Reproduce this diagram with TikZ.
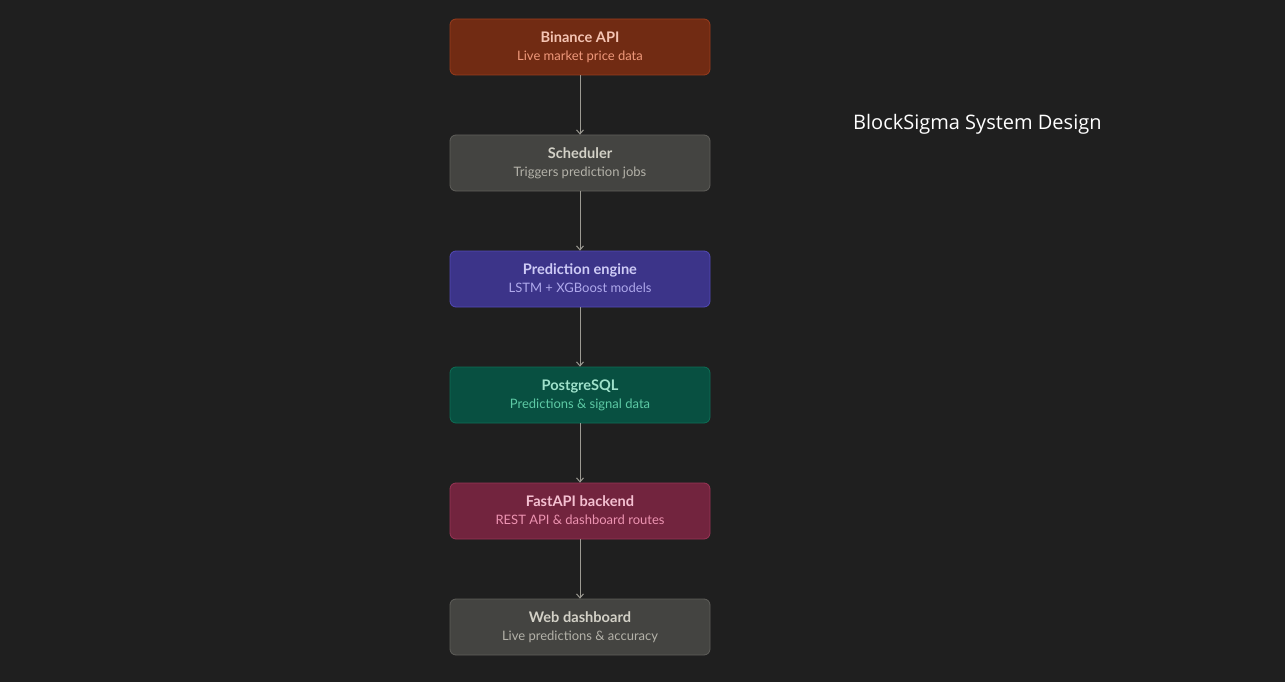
\documentclass[tikz,border=0pt]{standalone}
\usepackage{fontspec}
\setmainfont{Lato}
\newfontfamily\titlefont{Open Sans}
\usetikzlibrary{arrows.meta}
\definecolor{bg}{HTML}{1F1F1F}
\definecolor{arr}{HTML}{9C9A92}
\definecolor{coF}{HTML}{712B13}\definecolor{coD}{HTML}{993C1D}\definecolor{coT}{HTML}{F5C4B3}\definecolor{coS}{HTML}{F0997B}
\definecolor{grF}{HTML}{444441}\definecolor{grD}{HTML}{5F5E5A}\definecolor{grT}{HTML}{D3D1C7}\definecolor{grS}{HTML}{B4B2A9}
\definecolor{puF}{HTML}{3C3489}\definecolor{puD}{HTML}{534AB7}\definecolor{puT}{HTML}{CECBF6}\definecolor{puS}{HTML}{AFA9EC}
\definecolor{teF}{HTML}{085041}\definecolor{teD}{HTML}{0F6E56}\definecolor{teT}{HTML}{9FE1CB}\definecolor{teS}{HTML}{5DCAA5}
\definecolor{piF}{HTML}{72243E}\definecolor{piD}{HTML}{993556}\definecolor{piT}{HTML}{F4C0D1}\definecolor{piS}{HTML}{ED93B1}
\tikzset{
  box/.style={draw=#1D, fill=#1F, line width=0.8pt, rounded corners=6pt, minimum width=260pt, minimum height=56pt, inner sep=0pt},
  ttl/.style={text=#1T, font=\fontsize{14.6}{16}\selectfont\bfseries, inner sep=0pt, anchor=base},
  sub/.style={text=#1S, font=\fontsize{13}{14}\selectfont, inner sep=0pt, anchor=base},
  flow/.style={draw=arr, line width=1pt, -{Straight Barb[length=4pt,width=7pt]}}
}
\begin{document}
\begin{tikzpicture}[x=1pt,y=-1pt]
\fill[bg] (0,0) rectangle (1285,682);
\useasboundingbox (0,0) rectangle (1285,682);
\node[box=co] (b1) at (580,47) {};
\node[box=gr] (b2) at (580,163) {};
\node[box=pu] (b3) at (580,279) {};
\node[box=te] (b4) at (580,395) {};
\node[box=pi] (b5) at (580,511) {};
\node[box=gr] (b6) at (580,627) {};
\node[ttl=co] (t1) at (580,42.5) {Binance API};
\node[sub=co] (s1) at (580,60.5) {Live market price data};
\node[ttl=gr] (t2) at (580,158.5) {Scheduler};
\node[sub=gr] (s2) at (580,176.5) {Triggers prediction jobs};
\node[ttl=pu] (t3) at (580,274.5) {Prediction engine};
\node[sub=pu] (s3) at (580,292.5) {LSTM + XGBoost models};
\node[ttl=te] (t4) at (580,390.5) {PostgreSQL};
\node[sub=te] (s4) at (580,408.5) {Predictions \& signal data};
\node[ttl=pi] (t5) at (580,506.5) {FastAPI backend};
\node[sub=pi] (s5) at (580,524.5) {REST API \& dashboard routes};
\node[ttl=gr] (t6) at (580,622.5) {Web dashboard};
\node[sub=gr] (s6) at (580,640.5) {Live predictions \& accuracy};
\draw[flow] (b1) -- (b2);
\draw[flow] (b2) -- (b3);
\draw[flow] (b3) -- (b4);
\draw[flow] (b4) -- (b5);
\draw[flow] (b5) -- (b6);
\node[text=white, font=\titlefont\fontsize{20}{24}\selectfont, anchor=base west, inner sep=0pt] (title) at (853,130) {BlockSigma System Design};
\end{tikzpicture}
\end{document}
